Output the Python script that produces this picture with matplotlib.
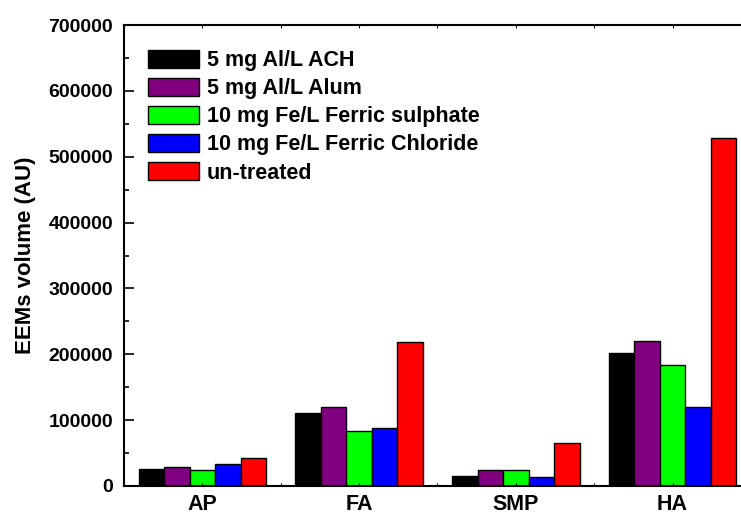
import numpy as np
import matplotlib
matplotlib.use("Agg")
import matplotlib.pyplot as plt
from matplotlib.ticker import MultipleLocator

plt.rcParams['font.family'] = ['Liberation Sans', 'DejaVu Sans']
plt.rcParams['font.weight'] = 'bold'

# data
categories = ["AP", "FA", "SMP", "HA"]
series_names = ["5 mg Al/L ACH", "5 mg Al/L Alum", "10 mg Fe/L Ferric sulphate",
                "10 mg Fe/L Ferric Chloride", "un-treated"]
ach = [25300, 110800, 15200, 202300]
alum = [28400, 120300, 23800, 219600]
ferric_sulphate = [23800, 83000, 24700, 183100]
ferric_chloride = [32900, 87500, 13700, 120300]
untreated = [42500, 219000, 65700, 529000]
colors = ["#000000", "#800080", "#00ff00", "#0000ff", "#ff0000"]

series = [ach, alum, ferric_sulphate, ferric_chloride, untreated]

fig = plt.figure(figsize=(7.41, 5.16), dpi=100)
ax = fig.add_axes([124 / 741, 30 / 516, 627 / 741, 461 / 516])

x = np.arange(len(categories))
width = 0.1625
for i, (vals, name, c) in enumerate(zip(series, series_names, colors)):
    ax.bar(x + (i - 2) * width, vals, width, color=c, edgecolor="black",
           linewidth=1.0, label=name)

ax.set_xlim(-0.5, 3.5)
ax.set_ylim(0, 700000)
ax.set_xticks(x)
ax.set_xticklabels(categories, fontsize=15.5, fontweight='bold')
ax.xaxis.set_minor_locator(MultipleLocator(0.5))
ax.yaxis.set_major_locator(MultipleLocator(100000))
ax.yaxis.set_minor_locator(MultipleLocator(50000))
ax.tick_params(axis='y', which='major', direction='in', length=7, width=1.2,
               labelsize=14, pad=8, right=True)
ax.tick_params(axis='y', which='minor', direction='in', length=3.5, width=1.2, right=True)
ax.tick_params(axis='x', which='both', direction='in', length=2, width=0.8,
               pad=6, top=True)
for lab in ax.get_yticklabels():
    lab.set_fontweight('bold')

for s in ax.spines.values():
    s.set_linewidth(1.5)

ax.set_ylabel("EEMs volume (AU)", fontsize=16, fontweight='bold', labelpad=9)

ax.legend(loc='upper left', bbox_to_anchor=(0.038, 0.946), frameon=False,
          fontsize=15.5, handlelength=2.37, handleheight=0.93, handletextpad=0.37,
          labelspacing=0.3, borderpad=0, borderaxespad=0)

fig.savefig("out.png", dpi=100)
